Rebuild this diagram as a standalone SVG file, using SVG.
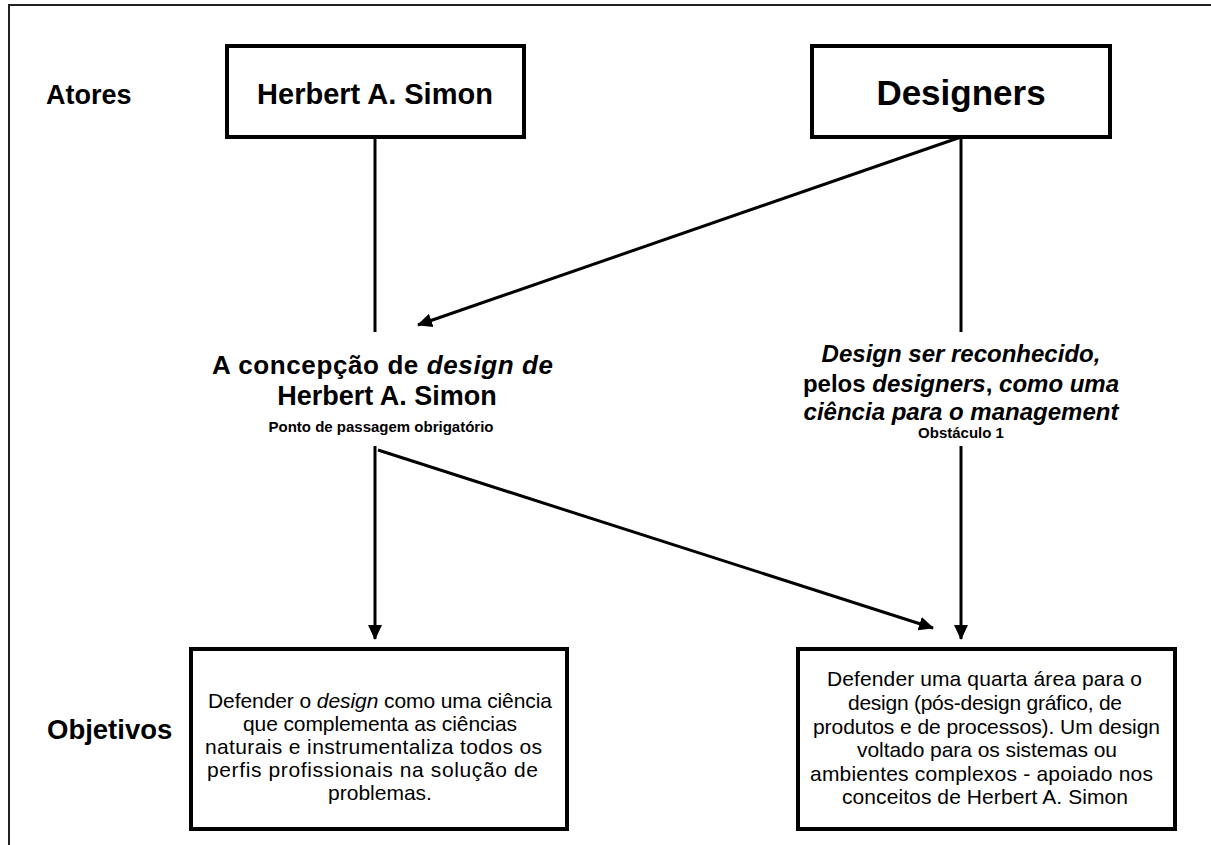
<svg xmlns="http://www.w3.org/2000/svg" width="1211" height="845" viewBox="0 0 1211 845">
<style>
text{font-family:"Liberation Sans",Arial,sans-serif;fill:#000}
.b{font-weight:bold}
.i{font-style:italic}
.box{fill:#fff;stroke:#000;stroke-width:4}
.ln{stroke:#000;stroke-width:3;fill:none}
.arr{stroke:#000;stroke-width:3;fill:none;marker-end:url(#ah)}
</style>
<defs>
<marker id="ah" markerUnits="userSpaceOnUse" markerWidth="16" markerHeight="14" refX="14" refY="7" orient="auto">
<path d="M0,0 L15,7 L0,14 Z" fill="#000"/>
</marker>
</defs>
<rect width="1211" height="845" fill="#fff"/>
<path d="M9,845 V5 H1211" fill="none" stroke="#222" stroke-width="2"/>
<g id="label-atores"><text class="b" x="46" y="104" font-size="27">Atores</text></g>
<g id="label-objetivos"><text class="b" x="47" y="739" font-size="27.5">Objetivos</text></g>
<g id="node-simon">
<rect class="box" x="227" y="46" width="297" height="91"/>
<text class="b" x="375" y="104" font-size="29" text-anchor="middle">Herbert A. Simon</text>
</g>
<g id="node-designers">
<rect class="box" x="812" y="46" width="298" height="91"/>
<text class="b" x="961" y="105" font-size="35" text-anchor="middle">Designers</text>
</g>
<g id="node-concepcao">
<text class="b" x="212" y="374" font-size="26" textLength="341" lengthAdjust="spacing">A concepção de <tspan class="i">design de</tspan></text>
<text class="b" x="387" y="405" font-size="27" text-anchor="middle">Herbert A. Simon</text>
<text class="b" x="381" y="432" font-size="15" text-anchor="middle">Ponto de passagem obrigatório</text>
</g>
<g id="node-obstaculo">
<text class="b i" x="961" y="362" font-size="24" text-anchor="middle">Design ser reconhecido,</text>
<text class="b" x="961" y="392" font-size="24" text-anchor="middle">pelos <tspan class="i">designers</tspan>, <tspan class="i">como uma</tspan></text>
<text class="b i" x="961" y="420" font-size="24" text-anchor="middle">ciência para o management</text>
<text class="b" x="961" y="438" font-size="15" text-anchor="middle">Obstáculo 1</text>
</g>
<g id="node-objetivo1">
<rect class="box" x="191" y="649" width="376" height="180"/>
<g font-size="21" lengthAdjust="spacing">
<text x="208" y="708" textLength="344">Defender o <tspan class="i">design</tspan> como uma ciência</text>
<text x="243" y="731" textLength="274">que complementa as ciências</text>
<text x="205" y="754" textLength="337">naturais e instrumentaliza todos os</text>
<text x="207" y="777" textLength="331">perfis profissionais na solução de</text>
<text x="380" y="800" text-anchor="middle">problemas.</text>
</g>
</g>
<g id="node-objetivo2">
<rect class="box" x="798" y="649" width="377" height="180"/>
<g font-size="21" lengthAdjust="spacing">
<text x="827" y="686" textLength="315">Defender uma quarta área para o</text>
<text x="848" y="710" textLength="274">design (pós-design gráfico, de</text>
<text x="813" y="734" textLength="347">produtos e de processos). Um design</text>
<text x="857" y="757" textLength="260">voltado para os sistemas ou</text>
<text x="810" y="781" textLength="343">ambientes complexos - apoiado nos</text>
<text x="842" y="804" textLength="286">conceitos de Herbert A. Simon</text>
</g>
</g>
<g id="connectors">
<line class="ln" x1="375" y1="137" x2="375" y2="332"/>
<line class="ln" x1="961" y1="137" x2="961" y2="332"/>
<line class="arr" x1="961" y1="137" x2="418" y2="325"/>
<line class="arr" x1="375" y1="446" x2="375" y2="639"/>
<line class="arr" x1="378" y1="450" x2="933" y2="628"/>
<line class="arr" x1="961" y1="446" x2="961" y2="639"/>
</g>
</svg>
